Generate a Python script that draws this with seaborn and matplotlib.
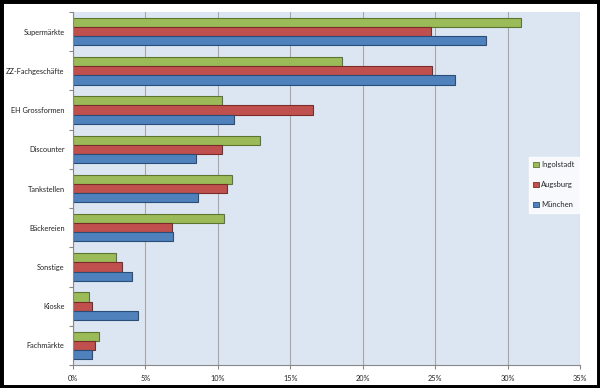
import matplotlib
matplotlib.use("Agg")
import matplotlib.pyplot as plt
import matplotlib.patches as mpatches
from matplotlib.ticker import FixedLocator, PercentFormatter
import seaborn as sns
import pandas as pd
import numpy as np

categories = ["Supermärkte", "ZZ-Fachgeschäfte", "EH Grossformen", "Discounter",
              "Tankstellen", "Bäckereien", "Sonstige", "Kioske", "Fachmärkte"]
ingolstadt = [30.9, 18.6, 10.3, 12.9, 11.0, 10.4, 3.0, 1.1, 1.8]
augsburg   = [24.7, 24.8, 16.6, 10.3, 10.6, 6.8, 3.4, 1.3, 1.5]
muenchen   = [28.5, 26.4, 11.1, 8.5, 8.6, 6.9, 4.1, 4.5, 1.3]
series_names = ["Ingolstadt", "Augsburg", "München"]
x_ticks = [0, 5, 10, 15, 20, 25, 30, 35]

colors = {"Ingolstadt": "#9BBB59", "Augsburg": "#C0504D", "München": "#4F81BD"}
edges = {"Ingolstadt": "#5E7530", "Augsburg": "#7A2C2A", "München": "#2A4D78"}

rows = []
for name, vals in zip(series_names, [ingolstadt, augsburg, muenchen]):
    for c, v in zip(categories, vals):
        rows.append({"Kategorie": c, "Stadt": name, "Anteil": v})
df = pd.DataFrame(rows)

sns.set_theme(style="white")
plt.rcParams["font.family"] = ["Lato", "DejaVu Sans"]

fig = plt.figure(figsize=(6, 3.88), dpi=100)
ax = fig.add_axes([73/600, 1-365/388, (580-73)/600, (365-12)/388])
ax.set_facecolor("#DCE6F2")

sns.barplot(data=df, y="Kategorie", x="Anteil", hue="Stadt", order=categories,
            hue_order=series_names, palette=colors, orient="h", width=0.7,
            saturation=1, ax=ax, legend=True, errorbar=None, linewidth=0.8)

for cont, name in zip(ax.containers, series_names):
    for bar in cont:
        bar.set_edgecolor(edges[name])
        bar.set_linewidth(0.8)

ax.set_xlim(0, 35)
ax.set_ylim(len(categories) - 0.5, -0.5)
ax.xaxis.set_major_locator(FixedLocator(x_ticks))
ax.xaxis.set_major_formatter(PercentFormatter(decimals=0))
ax.grid(axis="x", color="#A6A6A6", linewidth=0.8)
ax.set_axisbelow(True)
ax.set_xlabel("")
ax.set_ylabel("")

ax.yaxis.set_minor_locator(FixedLocator(np.arange(-0.5, len(categories), 1.0)))
ax.tick_params(axis="y", which="major", length=0, labelsize=5.3, pad=6, colors="#222222")
ax.tick_params(axis="y", which="minor", length=3, color="#888888", width=0.8, left=True)
ax.tick_params(axis="x", which="major", length=3, color="#888888", width=0.8,
               labelsize=5.3, pad=4, bottom=True, labelcolor="#222222")

for s in ["top", "right"]:
    ax.spines[s].set_visible(False)
for s in ["left", "bottom"]:
    ax.spines[s].set_color("#888888")
    ax.spines[s].set_linewidth(0.8)

leg = ax.legend(loc="center left", bbox_to_anchor=((525-73)/(580-73), 0.51),
                frameon=True, fontsize=5.5, handlelength=0.7, handleheight=0.7,
                handletextpad=0.3, labelspacing=1.7, borderpad=0.6,
                fancybox=False)
leg.get_frame().set_facecolor("white")
leg.get_frame().set_edgecolor("white")
for h, name in zip(leg.legend_handles, series_names):
    h.set_edgecolor(edges[name])
    h.set_linewidth(0.6)

fig.patches.append(mpatches.Rectangle((0, 0), 1, 1, transform=fig.transFigure,
                                      fill=False, edgecolor="black", linewidth=5,
                                      zorder=10))

fig.savefig("out.png", dpi=100)
